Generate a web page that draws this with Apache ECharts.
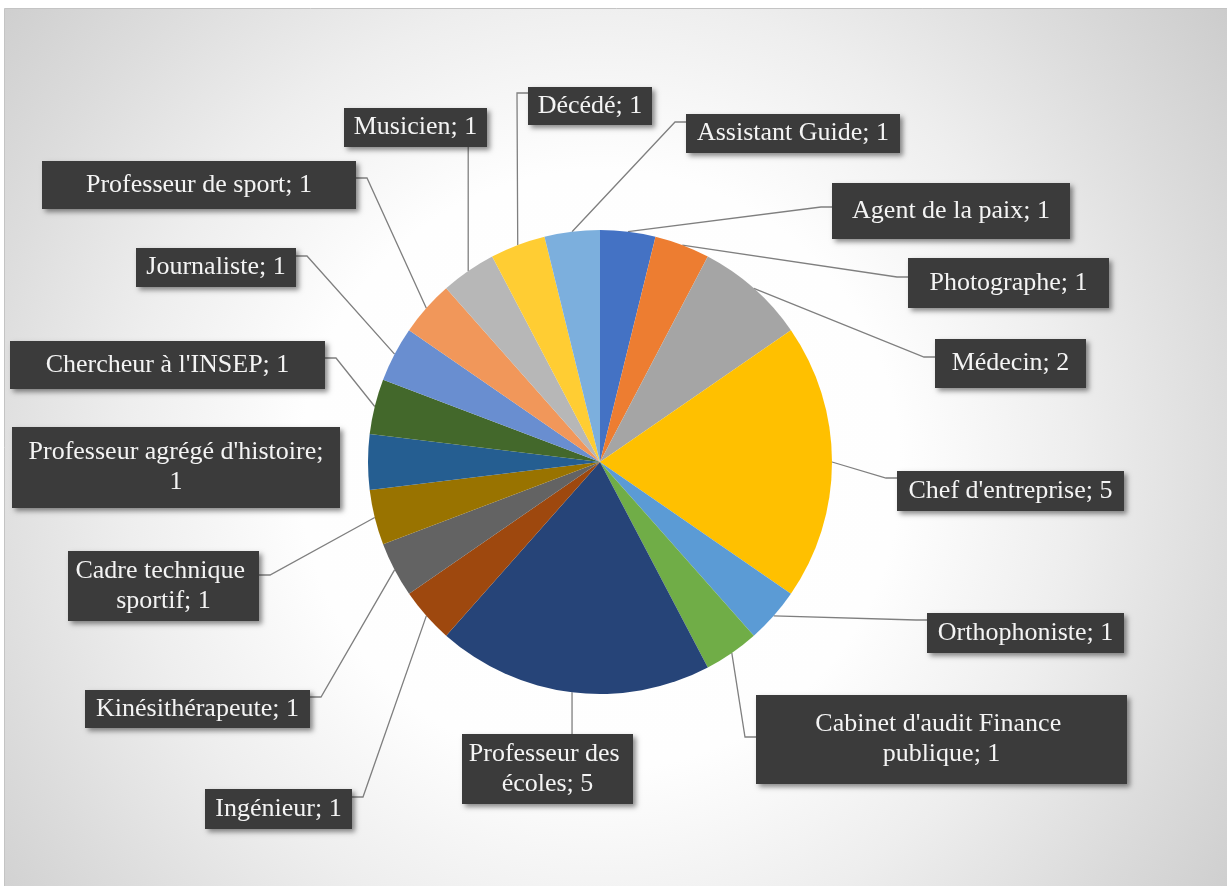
<!DOCTYPE html>
<html>
<head>
<meta charset="utf-8">
<script src="https://cdn.jsdelivr.net/npm/echarts@6/dist/echarts.min.js"></script>
<style>
  html, body { margin: 0; padding: 0; background: #ffffff; }
  #chart { width: 1227px; height: 886px; }
</style>
</head>
<body>
<div id="chart"></div>
<script>
// ---- Data ----
const categories = [
  'Agent de la paix', 'Photographe', 'Médecin', "Chef d'entreprise", 'Orthophoniste',
  "Cabinet d'audit Finance publique", 'Professeur des écoles', 'Ingénieur', 'Kinésithérapeute',
  'Cadre technique sportif', "Professeur agrégé d'histoire", "Chercheur à l'INSEP", 'Journaliste',
  'Professeur de sport', 'Musicien', 'Décédé', 'Assistant Guide'
];
const values = [1, 1, 2, 5, 1, 1, 5, 1, 1, 1, 1, 1, 1, 1, 1, 1, 1];

// ---- Styles ----
const colors = [
  '#4472C4', '#ED7D31', '#A5A5A5', '#FFC000', '#5B9BD5', '#70AD47', '#264478', '#9E480E',
  '#636363', '#997300', '#255E91', '#43682B', '#698ED0', '#F1975A', '#B7B7B7', '#FFCD33', '#7CAFDD'
];

// ---- Label box layout: [left, top, right, bottom, leader side, leader attach y, wrap width | 'value'] ----
const labelBoxes = [
  [832, 183, 1070, 239, 'L', 207],
  [908, 258, 1109, 308, 'L', 277],
  [935, 339, 1086, 388, 'L', 357],
  [897, 471, 1124, 511, 'L', 478],
  [927, 613, 1124, 653, 'L', 620],
  [756, 695, 1127, 784, 'L', 737, 262],
  [462, 734, 633, 804, 'B', 0, 162],
  [205, 789, 352, 829, 'R', 797],
  [85, 690, 310, 728, 'R', 697],
  [68, 551, 259, 621, 'R', 575, 182],
  [12, 427, 340, 508, 'N', 0, 'value'],
  [10, 341, 325, 389, 'R', 358],
  [136, 248, 296, 287, 'R', 256],
  [42, 161, 356, 209, 'R', 178],
  [344, 108, 487, 147, 'T', 0],
  [528, 87, 652, 125, 'L', 93],
  [686, 114, 900, 153, 'L', 122]
];

const LINE_H = 30;

const pieData = categories.map((name, i) => {
  const b = labelBoxes[i];
  const w = b[2] - b[0], h = b[3] - b[1];
  let labelCfg;
  if (b[6] === 'value') {
    labelCfg = { formatter: '{b};\n{c}', width: w - 2, overflow: 'none', lineHeight: LINE_H, padding: [(h - 2 * LINE_H) / 2, 1] };
  } else if (b[6]) {
    const tw = b[6];
    labelCfg = { width: tw, overflow: 'break', lineHeight: LINE_H, padding: [(h - 2 * LINE_H) / 2, (w - tw) / 2] };
  } else {
    labelCfg = { width: w - 2, overflow: 'none', lineHeight: h, padding: [0, 1] };
  }
  return {
    name: name,
    value: values[i],
    itemStyle: { color: colors[i] },
    label: labelCfg,
    labelLine: { show: b[4] !== 'N' }
  };
});

const chart = echarts.init(document.getElementById('chart'), null, { renderer: 'canvas' });

const bgGradient = new echarts.graphic.RadialGradient(600, 470, 790, [
  { offset: 0, color: '#ffffff' },
  { offset: 0.38, color: '#fefefe' },
  { offset: 0.6, color: '#eeeeee' },
  { offset: 0.8, color: '#dcdcdc' },
  { offset: 1, color: '#cbcbcb' }
], true);

chart.setOption({
  animation: false,
  graphic: [{
    type: 'rect',
    z: -10,
    silent: true,
    shape: { x: 4.5, y: 8.5, width: 1240, height: 900 },
    style: { fill: bgGradient, stroke: '#c4c4c4', lineWidth: 1 }
  }],
  series: [
    {
      type: 'pie',
      silent: true,
      z: 1,
      center: [600, 462],
      radius: 232,
      label: { show: false },
      labelLine: { show: false },
      itemStyle: { color: '#ffffff', shadowBlur: 30, shadowColor: 'rgba(255,255,255,1)' },
      data: [{ value: 1 }]
    },
    {
      type: 'pie',
      z: 2,
      center: [600, 462],
      radius: 232,
      startAngle: 90,
      clockwise: true,
      avoidLabelOverlap: false,
      emphasis: { disabled: true },
      label: {
        show: true,
        position: 'outside',
        formatter: '{b}; {c}',
        color: '#f4f4f4',
        fontFamily: 'Liberation Serif',
        fontSize: 26,
        align: 'center',
        backgroundColor: '#3b3b3b',
        shadowColor: 'rgba(0,0,0,0.45)',
        shadowBlur: 5,
        shadowOffsetX: 3,
        shadowOffsetY: 3
      },
      labelLine: {
        show: true,
        length: 10,
        length2: 10,
        smooth: false,
        lineStyle: { color: '#7f7f7f', width: 1.3 }
      },
      labelLayout: function (params) {
        const b = labelBoxes[params.dataIndex];
        const out = {
          x: (b[0] + b[2]) / 2,
          y: (b[1] + b[3]) / 2,
          align: 'center',
          verticalAlign: 'middle'
        };
        const pts = params.labelLinePoints;
        if (pts && pts.length) {
          const a = pts[0];
          let end, bend;
          if (b[4] === 'L') {
            end = [b[0], b[5]]; bend = [b[0] - 11, b[5]];
          } else if (b[4] === 'R') {
            end = [b[2], b[5]]; bend = [b[2] + 11, b[5]];
          } else if (b[4] === 'B') {
            end = [a[0], b[1]]; bend = [a[0], (a[1] + b[1]) / 2];
          } else if (b[4] === 'T') {
            end = [a[0], b[3]]; bend = [a[0], (a[1] + b[3]) / 2];
          }
          if (end) out.labelLinePoints = [[a[0], a[1]], bend, end];
        }
        return out;
      },
      data: pieData
    }
  ]
});
</script>
</body>
</html>
